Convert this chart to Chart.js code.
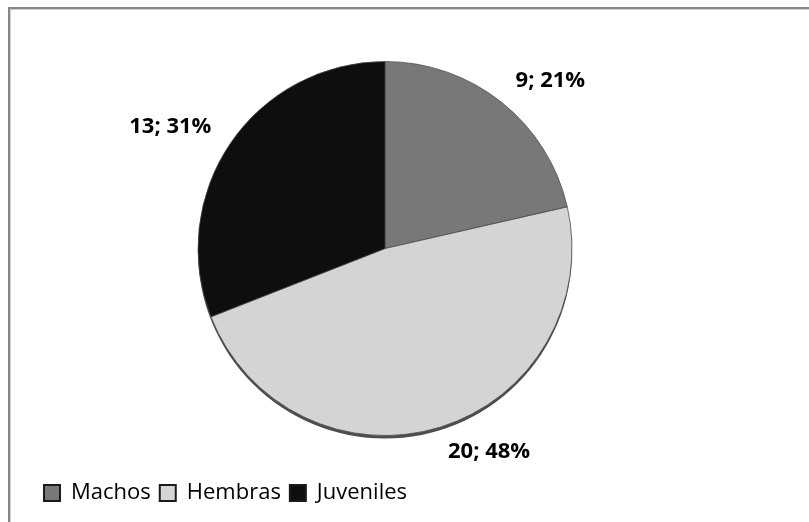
<!DOCTYPE html>
<html>
<head>
<meta charset="utf-8">
<script src="https://cdn.jsdelivr.net/npm/chart.js@4.4.1/dist/chart.umd.min.js"></script>
<style>
    body { margin: 0; background: #fff; overflow: hidden; }
    #frame {
        position: absolute; left: 8px; top: 7px; width: 900px; height: 600px;
        border-top: 2px solid #878787; border-left: 2px solid #878787;
        box-shadow: inset 1px 1px 0 #cfcfcf;
    }
    #chart { position: absolute; left: 0; top: 0; }
</style>
</head>
<body>
<div id="frame"></div>
<canvas id="chart" width="809" height="522"></canvas>
<script>
const categories = ['Machos', 'Hembras', 'Juveniles'];
const counts = [9, 20, 13];
const percents = ['21%', '48%', '31%'];
const sliceColors = ['#787878', '#d4d4d4', '#0e0e0e'];

// where each label sits: shift from mid-angle (deg) and distance in radii
const labelPlacement = [
    { shift: 6, dist: 1.26 },
    { shift: -10, dist: 1.22 },
    { shift: -4.7, dist: 1.32 }
];

const shadowPlugin = {
    id: 'pieShadow',
    beforeDatasetsDraw(chart) {
        const arc = chart.getDatasetMeta(0).data[0];
        if (!arc) return;
        const ctx = chart.ctx;
        ctx.save();
        ctx.fillStyle = '#4d4d4d';
        ctx.beginPath();
        ctx.arc(arc.x, arc.y + 3, arc.outerRadius, 0, Math.PI * 2);
        ctx.fill();
        ctx.restore();
    }
};

const labelPlugin = {
    id: 'outerLabels',
    afterDatasetsDraw(chart) {
        const ctx = chart.ctx;
        const meta = chart.getDatasetMeta(0);
        ctx.save();
        ctx.font = 'bold 22px "Open Sans"';
        ctx.fillStyle = '#000';
        ctx.textAlign = 'center';
        ctx.textBaseline = 'middle';
        meta.data.forEach((arc, i) => {
            const p = labelPlacement[i];
            const mid = (arc.startAngle + arc.endAngle) / 2 + p.shift * Math.PI / 180;
            const r = arc.outerRadius * p.dist;
            const x = arc.x + Math.cos(mid) * r;
            const y = arc.y + Math.sin(mid) * r;
            ctx.fillText(counts[i] + '; ' + percents[i], x, y);
        });
        ctx.restore();
    }
};

new Chart(document.getElementById('chart'), {
    type: 'pie',
    data: {
        labels: categories,
        datasets: [{
            data: counts,
            backgroundColor: sliceColors,
            borderColor: '#4a4a4a',
            borderWidth: 0.75,
            radius: 187
        }]
    },
    options: {
        responsive: false,
        animation: false,
        devicePixelRatio: 1,
        layout: { padding: { left: 35, right: 74, top: 24, bottom: 8 } },
        plugins: {
            tooltip: { enabled: false },
            legend: {
                position: 'bottom',
                align: 'start',
                labels: {
                    boxWidth: 16,
                    boxHeight: 16,
                    padding: 9,
                    color: '#000',
                    font: { family: 'Open Sans', size: 22 },
                    generateLabels(chart) {
                        return categories.map((name, i) => ({
                            text: name,
                            fillStyle: sliceColors[i],
                            strokeStyle: '#1a1a1a',
                            lineWidth: 2,
                            hidden: false,
                            index: i
                        }));
                    }
                }
            }
        }
    },
    plugins: [shadowPlugin, labelPlugin]
});
</script>
</body>
</html>
